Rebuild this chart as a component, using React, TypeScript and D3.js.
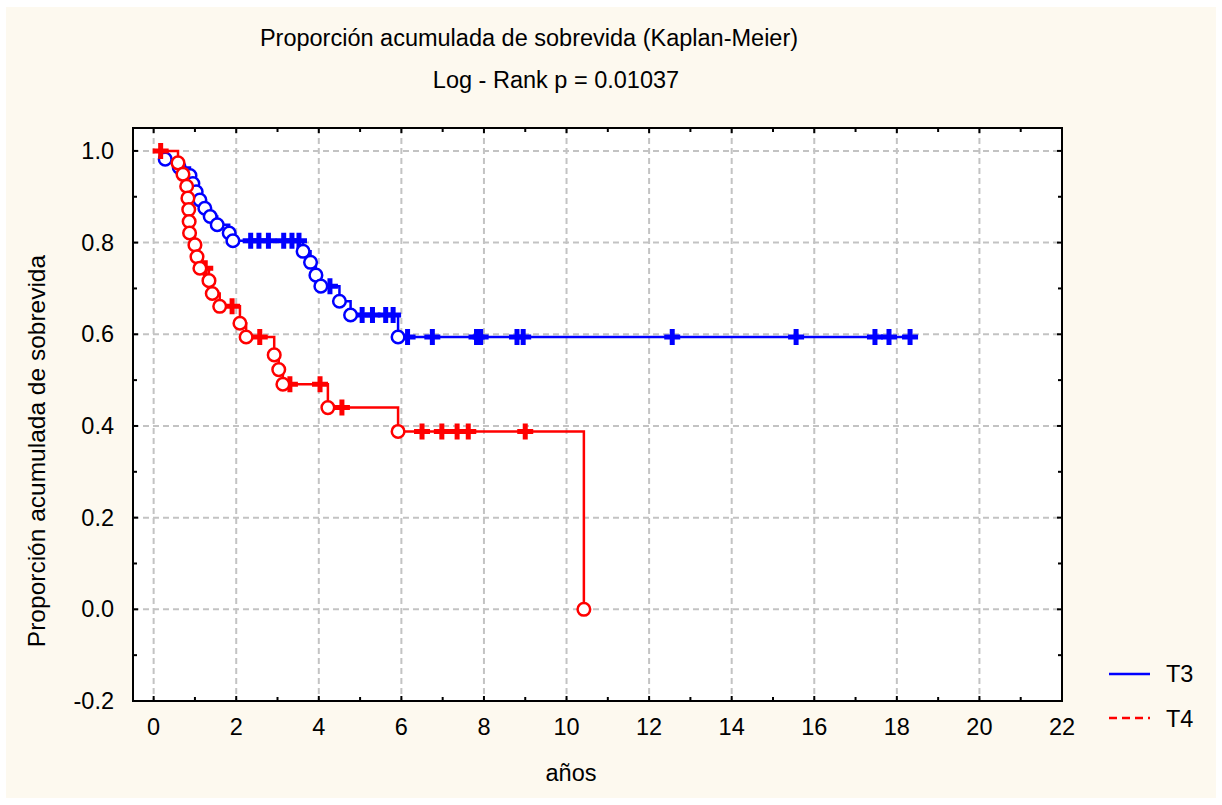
import React from "react";
import * as d3 from "d3";

// Kaplan-Meier survival curves, T3 vs T4
const seriesNames = ["T3", "T4"];

// T3: event times (years) and survival proportion after each event
const t3EventTimes = [0.28, 0.62, 0.88, 0.95, 1.03, 1.12, 1.24, 1.37, 1.54, 1.83, 1.92, 3.62, 3.8, 3.93, 4.05, 4.5, 4.77, 5.92];
const t3EventSurv = [0.982, 0.964, 0.946, 0.929, 0.911, 0.893, 0.875, 0.857, 0.839, 0.821, 0.804, 0.781, 0.757, 0.729, 0.705, 0.672, 0.642, 0.594];
// T3: censored observations (years)
const t3CensorTimes = [2.35, 2.55, 2.78, 3.15, 3.35, 3.52, 4.27, 5.05, 5.3, 5.62, 5.8, 6.15, 6.75, 7.82, 7.92, 8.8, 8.95, 12.56, 15.56, 17.47, 17.81, 18.32];

// T4: event times (years) and survival proportion after each event
const t4EventTimes = [0.59, 0.71, 0.8, 0.83, 0.85, 0.86, 0.87, 1.0, 1.05, 1.12, 1.34, 1.42, 1.6, 2.09, 2.24, 2.92, 3.03, 3.13, 4.22, 5.92, 10.42];
const t4EventSurv = [0.974, 0.949, 0.923, 0.897, 0.872, 0.846, 0.821, 0.795, 0.769, 0.744, 0.717, 0.689, 0.661, 0.624, 0.594, 0.555, 0.523, 0.491, 0.44, 0.388, 0.0];
// T4: censored observations (years)
const t4CensorTimes = [0.17, 1.25, 1.9, 2.57, 3.3, 4.03, 4.56, 6.5, 6.98, 7.35, 7.62, 9.0];

const xTicks = [0, 2, 4, 6, 8, 10, 12, 14, 16, 18, 20, 22];
const xMinorTicks = [1, 3, 5, 7, 9, 11, 13, 15, 17, 19, 21];
const yTicks = [-0.2, 0.0, 0.2, 0.4, 0.6, 0.8, 1.0];
const yMinorTicks = [-0.1, 0.1, 0.3, 0.5, 0.7, 0.9];

const titleText = "Proporción acumulada de sobrevida (Kaplan-Meier)";
const subtitleText = "Log - Rank p = 0.01037";
const xLabel = "años";
const yLabel = "Proporción acumulada de sobrevida";

const W = 1222;
const H = 805;
const L = 133, R = 1062, T = 128, B = 701;
const FONT = "'Liberation Sans', Arial, Helvetica, sans-serif";
const FS = 23.5;

const x = d3.scaleLinear().domain([-0.5, 22]).range([L, R]);
const y = d3.scaleLinear().domain([-0.2, 1.05]).range([B, T]);

function survAt(times: number[], surv: number[], t: number) {
  let s = 1;
  for (let i = 0; i < times.length; i++) if (times[i] <= t) s = surv[i];
  return s;
}

function stepPoints(times: number[], surv: number[], censors: number[]) {
  const pts: [number, number][] = [[0, 1]];
  let prev = 1;
  times.forEach((t, i) => {
    pts.push([t, prev]);
    pts.push([t, surv[i]]);
    prev = surv[i];
  });
  const end = Math.max(times[times.length - 1], ...censors);
  pts.push([end, prev]);
  return pts;
}

const line = d3
  .line<[number, number]>()
  .x((d) => x(d[0]))
  .y((d) => y(d[1]));

function Curve({ times, surv, censors, color }: { times: number[]; surv: number[]; censors: number[]; color: string }) {
  const pts = stepPoints(times, surv, censors);
  const arm = 8;
  return (
    <g>
      <path d={line(pts) || ""} fill="none" stroke={color} strokeWidth={2.5} />
      {censors.map((c, i) => {
        const cx = x(c);
        const cy = y(survAt(times, surv, c));
        return (
          <path
            key={"c" + i}
            d={`M${cx - arm},${cy}H${cx + arm}M${cx},${cy - arm}V${cy + arm}`}
            stroke={color}
            strokeWidth={5}
            fill="none"
          />
        );
      })}
      {times.map((t, i) => (
        <circle key={"e" + i} cx={x(t)} cy={y(surv[i])} r={6.3} fill="#fff" stroke={color} strokeWidth={2.5} />
      ))}
    </g>
  );
}

export default function App() {
  const gridStyle = { stroke: "#c3c3c3", strokeWidth: 2, strokeDasharray: "6,4" };
  return (
    <>
      <style>{"body{margin:0}"}</style>
      <svg width={W} height={H} style={{ display: "block" }} fontFamily={FONT}>
        <rect x={0} y={0} width={W} height={H} fill="#ffffff" />
        <rect x={6} y={7} width={W - 12} height={H - 14} fill="#fdf9ef" />

        <text x={529} y={46} fontSize={FS} textAnchor="middle" fill="#000">{titleText}</text>
        <text x={556} y={88} fontSize={FS} textAnchor="middle" fill="#000">{subtitleText}</text>

        <rect x={L} y={T} width={R - L} height={B - T} fill="#ffffff" />

        {/* grid */}
        {xTicks.filter((v) => v < 22).map((v) => (
          <line key={"gx" + v} x1={x(v)} x2={x(v)} y1={T} y2={B} {...gridStyle} />
        ))}
        {yTicks.filter((v) => v > -0.2).map((v) => (
          <line key={"gy" + v} x1={L} x2={R} y1={y(v)} y2={y(v)} {...gridStyle} />
        ))}

        {/* curves */}
        <Curve times={t3EventTimes} surv={t3EventSurv} censors={t3CensorTimes} color="#0000ff" />
        <Curve times={t4EventTimes} surv={t4EventSurv} censors={t4CensorTimes} color="#ff0000" />

        {/* frame */}
        <rect x={L} y={T} width={R - L} height={B - T} fill="none" stroke="#000" strokeWidth={2} />

        {/* ticks */}
        {xTicks.map((v) => (
          <g key={"tx" + v} stroke="#000" strokeWidth={2}>
            <line x1={x(v)} x2={x(v)} y1={B} y2={B - 5} />
            <line x1={x(v)} x2={x(v)} y1={T} y2={T + 5} />
          </g>
        ))}
        {xMinorTicks.map((v) => (
          <g key={"mx" + v} stroke="#000" strokeWidth={2}>
            <line x1={x(v)} x2={x(v)} y1={B} y2={B - 4} />
            <line x1={x(v)} x2={x(v)} y1={T} y2={T + 4} />
          </g>
        ))}
        {yTicks.map((v) => (
          <g key={"ty" + v} stroke="#000" strokeWidth={2}>
            <line x1={L} x2={L + 5} y1={y(v)} y2={y(v)} />
            <line x1={R} x2={R - 5} y1={y(v)} y2={y(v)} />
          </g>
        ))}
        {yMinorTicks.map((v) => (
          <g key={"my" + v} stroke="#000" strokeWidth={2}>
            <line x1={L} x2={L + 4} y1={y(v)} y2={y(v)} />
            <line x1={R} x2={R - 4} y1={y(v)} y2={y(v)} />
          </g>
        ))}

        {/* tick labels */}
        {xTicks.map((v) => (
          <text key={"lx" + v} x={x(v)} y={735} fontSize={FS} textAnchor="middle" fill="#000">{String(v)}</text>
        ))}
        {yTicks.map((v) => (
          <text key={"ly" + v} x={114} y={y(v) + 8} fontSize={FS} textAnchor="end" fill="#000">{v.toFixed(1)}</text>
        ))}

        {/* axis titles */}
        <text x={571} y={781} fontSize={FS} textAnchor="middle" fill="#000">{xLabel}</text>
        <text transform="translate(45,451) rotate(-90)" fontSize={24.5} textAnchor="middle" fill="#000">{yLabel}</text>

        {/* legend */}
        <line x1={1109} x2={1150} y1={674} y2={674} stroke="#0000ff" strokeWidth={2.5} />
        <text x={1166} y={682} fontSize={FS} fill="#000">{seriesNames[0]}</text>
        <line x1={1109} x2={1150} y1={718} y2={718} stroke="#ff0000" strokeWidth={2.5} strokeDasharray="8,5" />
        <text x={1166} y={727} fontSize={FS} fill="#000">{seriesNames[1]}</text>
      </svg>
    </>
  );
}
